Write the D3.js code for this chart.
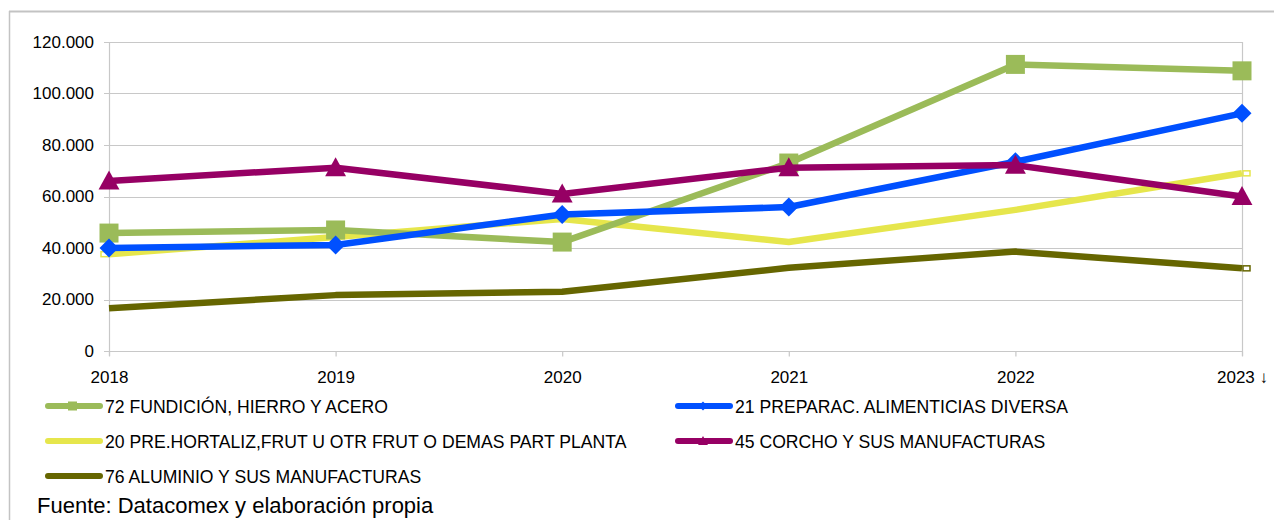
<!DOCTYPE html>
<html>
<head>
<meta charset="utf-8">
<script src="https://cdn.jsdelivr.net/npm/d3@7"></script>
<style>
  body { margin: 0; background: #fff; }
  svg { display: block; font-family: "Liberation Sans", Arial, sans-serif; }
</style>
</head>
<body>
<div id="chart"></div>
<script>
var years = [2018, 2019, 2020, 2021, 2022, 2023];
var yearLabels = ["2018", "2019", "2020", "2021", "2022", "2023 ↓"];
var yTicks = [0, 20000, 40000, 60000, 80000, 100000, 120000];

var fundicion = [45800, 47000, 42300, 73000, 111300, 108800];
var preparac = [40000, 41200, 53000, 55900, 73500, 92300];
var hortaliz = [37600, 44300, 51300, 42300, 54800, 69000];
var corcho = [66000, 71200, 61000, 71200, 72200, 60000];
var aluminio = [16600, 21700, 23000, 32300, 38600, 32100];

var seriesNames = [
  "72 FUNDICIÓN, HIERRO Y ACERO",
  "21 PREPARAC. ALIMENTICIAS DIVERSA",
  "20 PRE.HORTALIZ,FRUT U OTR FRUT O DEMAS PART PLANTA",
  "45 CORCHO Y SUS MANUFACTURAS",
  "76 ALUMINIO Y SUS MANUFACTURAS"
];

var cfg = {
  w: 1274,
  h: 520,
  left: 109,
  right: 1242,
  top: 42,
  bottom: 351,
  lineWidth: 6.5
};

var series = [
  {name: seriesNames[0], values: fundicion, color: "#9bbb59", marker: "square"},
  {name: seriesNames[1], values: preparac, color: "#0050ff", marker: "diamond"},
  {name: seriesNames[2], values: hortaliz, color: "#e6e64c", marker: "none"},
  {name: seriesNames[3], values: corcho, color: "#960064", marker: "triangle"},
  {name: seriesNames[4], values: aluminio, color: "#666600", marker: "none"}
];

var svg = d3.select("#chart").append("svg")
  .attr("width", cfg.w)
  .attr("height", cfg.h);

// outer frame (top + left only visible)
svg.append("line").attr("x1", 9).attr("x2", cfg.w).attr("y1", 11.5).attr("y2", 11.5)
  .style("stroke", "#c3c3c3").style("stroke-width", "2px");
svg.append("line").attr("x1", 9.5).attr("x2", 9.5).attr("y1", 11).attr("y2", cfg.h)
  .style("stroke", "#c3c3c3").style("stroke-width", "1.5px");

var x = d3.scalePoint().domain(years).range([cfg.left, cfg.right]);
var y = d3.scaleLinear().domain([0, 120000]).range([cfg.bottom, cfg.top]);

var fmt = function(v){ return v === 0 ? "0" : d3.format(",")(v).replace(/,/g, "."); };

//Gridlines
svg.append("g").selectAll("line")
  .data(yTicks)
  .enter().append("line")
  .attr("x1", cfg.left - 5)
  .attr("x2", cfg.right)
  .attr("y1", function(d){ return Math.round(y(d)) + 0.5; })
  .attr("y2", function(d){ return Math.round(y(d)) + 0.5; })
  .style("stroke", "#c8c8c8")
  .style("stroke-width", "1.2px");

svg.append("line")
  .attr("x1", cfg.left + 0.5).attr("x2", cfg.left + 0.5)
  .attr("y1", cfg.top).attr("y2", cfg.bottom + 5)
  .style("stroke", "#c8c8c8").style("stroke-width", "1.2px");
svg.append("line")
  .attr("x1", cfg.right + 0.5).attr("x2", cfg.right + 0.5)
  .attr("y1", cfg.top).attr("y2", cfg.bottom + 5)
  .style("stroke", "#c8c8c8").style("stroke-width", "1.2px");

// y axis
var yAxis = svg.append("g")
  .attr("transform", "translate(" + (cfg.left - 5) + ",0)")
  .call(d3.axisLeft(y).tickValues(yTicks).tickFormat(fmt).tickSize(0).tickPadding(10));
yAxis.select(".domain").remove();
yAxis.selectAll("text").style("font-size", "17px").style("fill", "#000")
  .style("font-family", "'Liberation Sans', Arial, sans-serif");

// x axis
var xAxis = svg.append("g")
  .attr("transform", "translate(0," + (cfg.bottom + 0.5) + ")")
  .call(d3.axisBottom(x).tickSize(5).tickPadding(14)
    .tickFormat(function(d, i){ return yearLabels[i]; }));
xAxis.select(".domain").remove();
xAxis.selectAll("line").style("stroke", "#c8c8c8").style("stroke-width", "1.2px");
xAxis.selectAll("text").style("font-size", "17px").style("fill", "#000")
  .style("font-family", "'Liberation Sans', Arial, sans-serif");

// lines
var line = d3.line()
  .x(function(d, i){ return x(years[i]); })
  .y(function(d){ return y(d); });

var drawOrder = [4, 2, 0, 1, 3];

function markerPath(type, size){
  if (type === "square") return d3.symbol().type(d3.symbolSquare).size(size * size)();
  if (type === "diamond") return "M0," + (-size/2) + "L" + (size/2) + ",0L0," + (size/2) + "L" + (-size/2) + ",0Z";
  if (type === "triangle") return "M0," + (-size*0.55) + "L" + (size*0.55) + "," + (size*0.45) + "L" + (-size*0.55) + "," + (size*0.45) + "Z";
  return null;
}

drawOrder.forEach(function(si){
  var s = series[si];
  svg.append("path")
    .datum(s.values)
    .attr("d", line)
    .style("fill", "none")
    .style("stroke", s.color)
    .style("stroke-width", cfg.lineWidth + "px")
    .style("stroke-linejoin", "round");

  if (s.marker !== "none"){
    var size = 19;
    svg.selectAll(".m" + si)
      .data(s.values)
      .enter().append("path")
      .attr("class", "m" + si)
      .attr("d", markerPath(s.marker, size))
      .attr("transform", function(d, i){ return "translate(" + x(years[i]) + "," + y(d) + ")"; })
      .style("fill", s.color);
  } else {
    // small hollow end caps
    var ends = si === 2 ? [0, 5] : [5];
    ends.forEach(function(i){
      svg.append("rect")
        .attr("x", x(years[i]) + (i === 0 ? -8 : 1))
        .attr("y", y(s.values[i]) - 2.5)
        .attr("width", 7)
        .attr("height", 5)
        .style("fill", "#fff")
        .style("stroke", s.color)
        .style("stroke-width", "1.5px");
    });
  }
});

// legend
var legendPos = [
  {x: 46, y: 406}, {x: 676, y: 406},
  {x: 46, y: 441}, {x: 676, y: 441},
  {x: 46, y: 476}
];

series.forEach(function(s, i){
  var p = legendPos[i];
  var g = svg.append("g").attr("transform", "translate(" + p.x + "," + p.y + ")");
  g.append("line")
    .attr("x1", 2).attr("x2", 54)
    .style("stroke", s.color)
    .style("stroke-width", "6px")
    .style("stroke-linecap", "round");
  if (s.marker === "square"){
    g.append("rect").attr("x", 22).attr("y", -4.5).attr("width", 9).attr("height", 9).style("fill", s.color);
  } else if (s.marker === "diamond"){
    g.append("path").attr("d", markerPath("diamond", 9)).attr("transform", "translate(27,0)").style("fill", s.color);
  } else if (s.marker === "triangle"){
    g.append("path").attr("d", markerPath("triangle", 9)).attr("transform", "translate(27,0)").style("fill", s.color);
  }
  g.append("text")
    .attr("x", 59)
    .attr("y", 6.5)
    .style("font-size", "17.6px")
    .style("fill", "#000")
    .text(s.name);
});

svg.append("text")
  .attr("x", 37)
  .attr("y", 513)
  .style("font-size", "22px")
  .style("fill", "#000")
  .text("Fuente: Datacomex y elaboración propia");
</script>
</body>
</html>
